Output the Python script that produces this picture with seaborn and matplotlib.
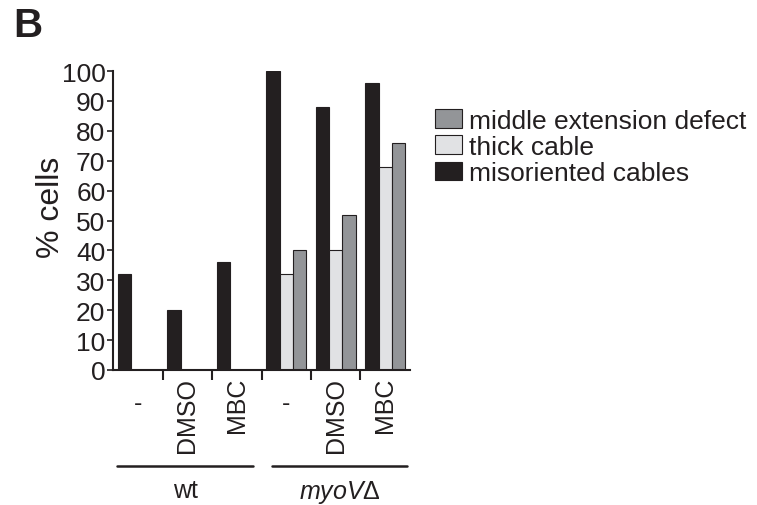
import matplotlib
matplotlib.use("Agg")
import matplotlib.pyplot as plt
from matplotlib.patches import Patch
from matplotlib.transforms import ScaledTranslation
import pandas as pd
import seaborn as sns

conditions = ["-", "DMSO", "MBC", "-", "DMSO", "MBC"]
strains = ["wt", "wt", "wt", "myoV", "myoV", "myoV"]
misoriented = [32, 20, 36, 100, 88, 96]
thick = [0, 0, 0, 32, 40, 68]
middle = [0, 0, 0, 40, 52, 76]
series = ["misoriented cables", "thick cable", "middle extension defect"]
colors = ["#231f20", "#e1e2e4", "#939598"]

rows = []
for i in range(len(conditions)):
    for name, vals in zip(series, [misoriented, thick, middle]):
        rows.append({"pos": i, "series": name, "value": vals[i]})
df = pd.DataFrame(rows)

sns.set_style("ticks")
plt.rcParams["font.family"] = ["Liberation Sans", "DejaVu Sans"]
plt.rcParams["mathtext.fontset"] = "custom"
plt.rcParams["mathtext.it"] = "Liberation Sans:italic"
plt.rcParams["mathtext.rm"] = "Liberation Sans"

fig = plt.figure(figsize=(7.57, 5.06), dpi=100)
ax = fig.add_axes([0.1493, 0.2668, 0.3923, 0.5909])

sns.barplot(data=df, x="pos", y="value", hue="series", hue_order=series,
            palette=colors, width=0.8, ax=ax, legend=False,
            edgecolor="#231f20", linewidth=0.8, saturation=1)

ax.set_ylim(0, 100)
ax.set_xlim(-0.5, len(conditions) - 0.5)
ax.set_yticks(range(0, 101, 10))
ax.tick_params(axis="y", labelsize=19, length=4, width=1.2, pad=1.5,
               color="#231f20", labelcolor="#231f20")
sns.despine(ax=ax)
for s in ["left", "bottom"]:
    ax.spines[s].set_linewidth(1.5)
    ax.spines[s].set_color("#231f20")

# ticks between categories, labels at category centres
ax.set_xticks([i + 0.5 for i in range(len(conditions) - 1)])
ax.set_xticklabels([])
ax.tick_params(axis="x", length=7, width=1.5, color="#231f20")
ax.set_xticks(range(len(conditions)), minor=True)
ax.set_xticklabels(conditions, minor=True, fontsize=18, rotation=90, va="top",
                   color="#231f20")
ax.tick_params(axis="x", which="minor", length=0, pad=5)
for lab in ax.get_xticklabels(minor=True):
    if lab.get_text() == "-":
        lab.set_rotation(0)
        lab.set_transform(lab.get_transform() +
                          ScaledTranslation(0, -10 / 72, fig.dpi_scale_trans))
ax.set_xlabel("")
ax.set_ylabel("% cells", fontsize=23, color="#231f20")
ax.yaxis.set_label_coords(-0.158, 0.548)

# strain brackets
trans = ax.get_xaxis_transform()
spans = {"wt": (-0.42, 0.33), "myoV": (-0.29, 0.44)}
for strain, label in [("wt", "wt"), ("myoV", r"$\mathit{myoV}$Δ")]:
    idx = [i for i, s in enumerate(strains) if s == strain]
    x0, x1 = idx[0] + spans[strain][0], idx[-1] + spans[strain][1]
    ax.plot([x0, x1], [-0.321, -0.321], transform=trans, color="#231f20",
            lw=1.8, clip_on=False)
    ax.text((x0 + x1) / 2, -0.362, label, transform=trans, ha="center",
            va="top", fontsize=18, color="#231f20")

# legend
handles = [Patch(facecolor=c, edgecolor="#231f20", linewidth=0.8, label=n)
           for n, c in zip(series, colors)][::-1]
leg = fig.legend(handles=handles, loc="upper left", bbox_to_anchor=(0.574, 0.783),
                 frameon=False, fontsize=19, handlelength=1.05, handleheight=0.7,
                 handletextpad=0.25, labelspacing=0.08, borderaxespad=0,
                 borderpad=0)
for t in leg.get_texts():
    t.set_color("#231f20")

fig.text(0.017, 0.927, "B", fontsize=29, fontweight="bold", color="#231f20",
         va="baseline")

fig.savefig("out.png", dpi=100)
